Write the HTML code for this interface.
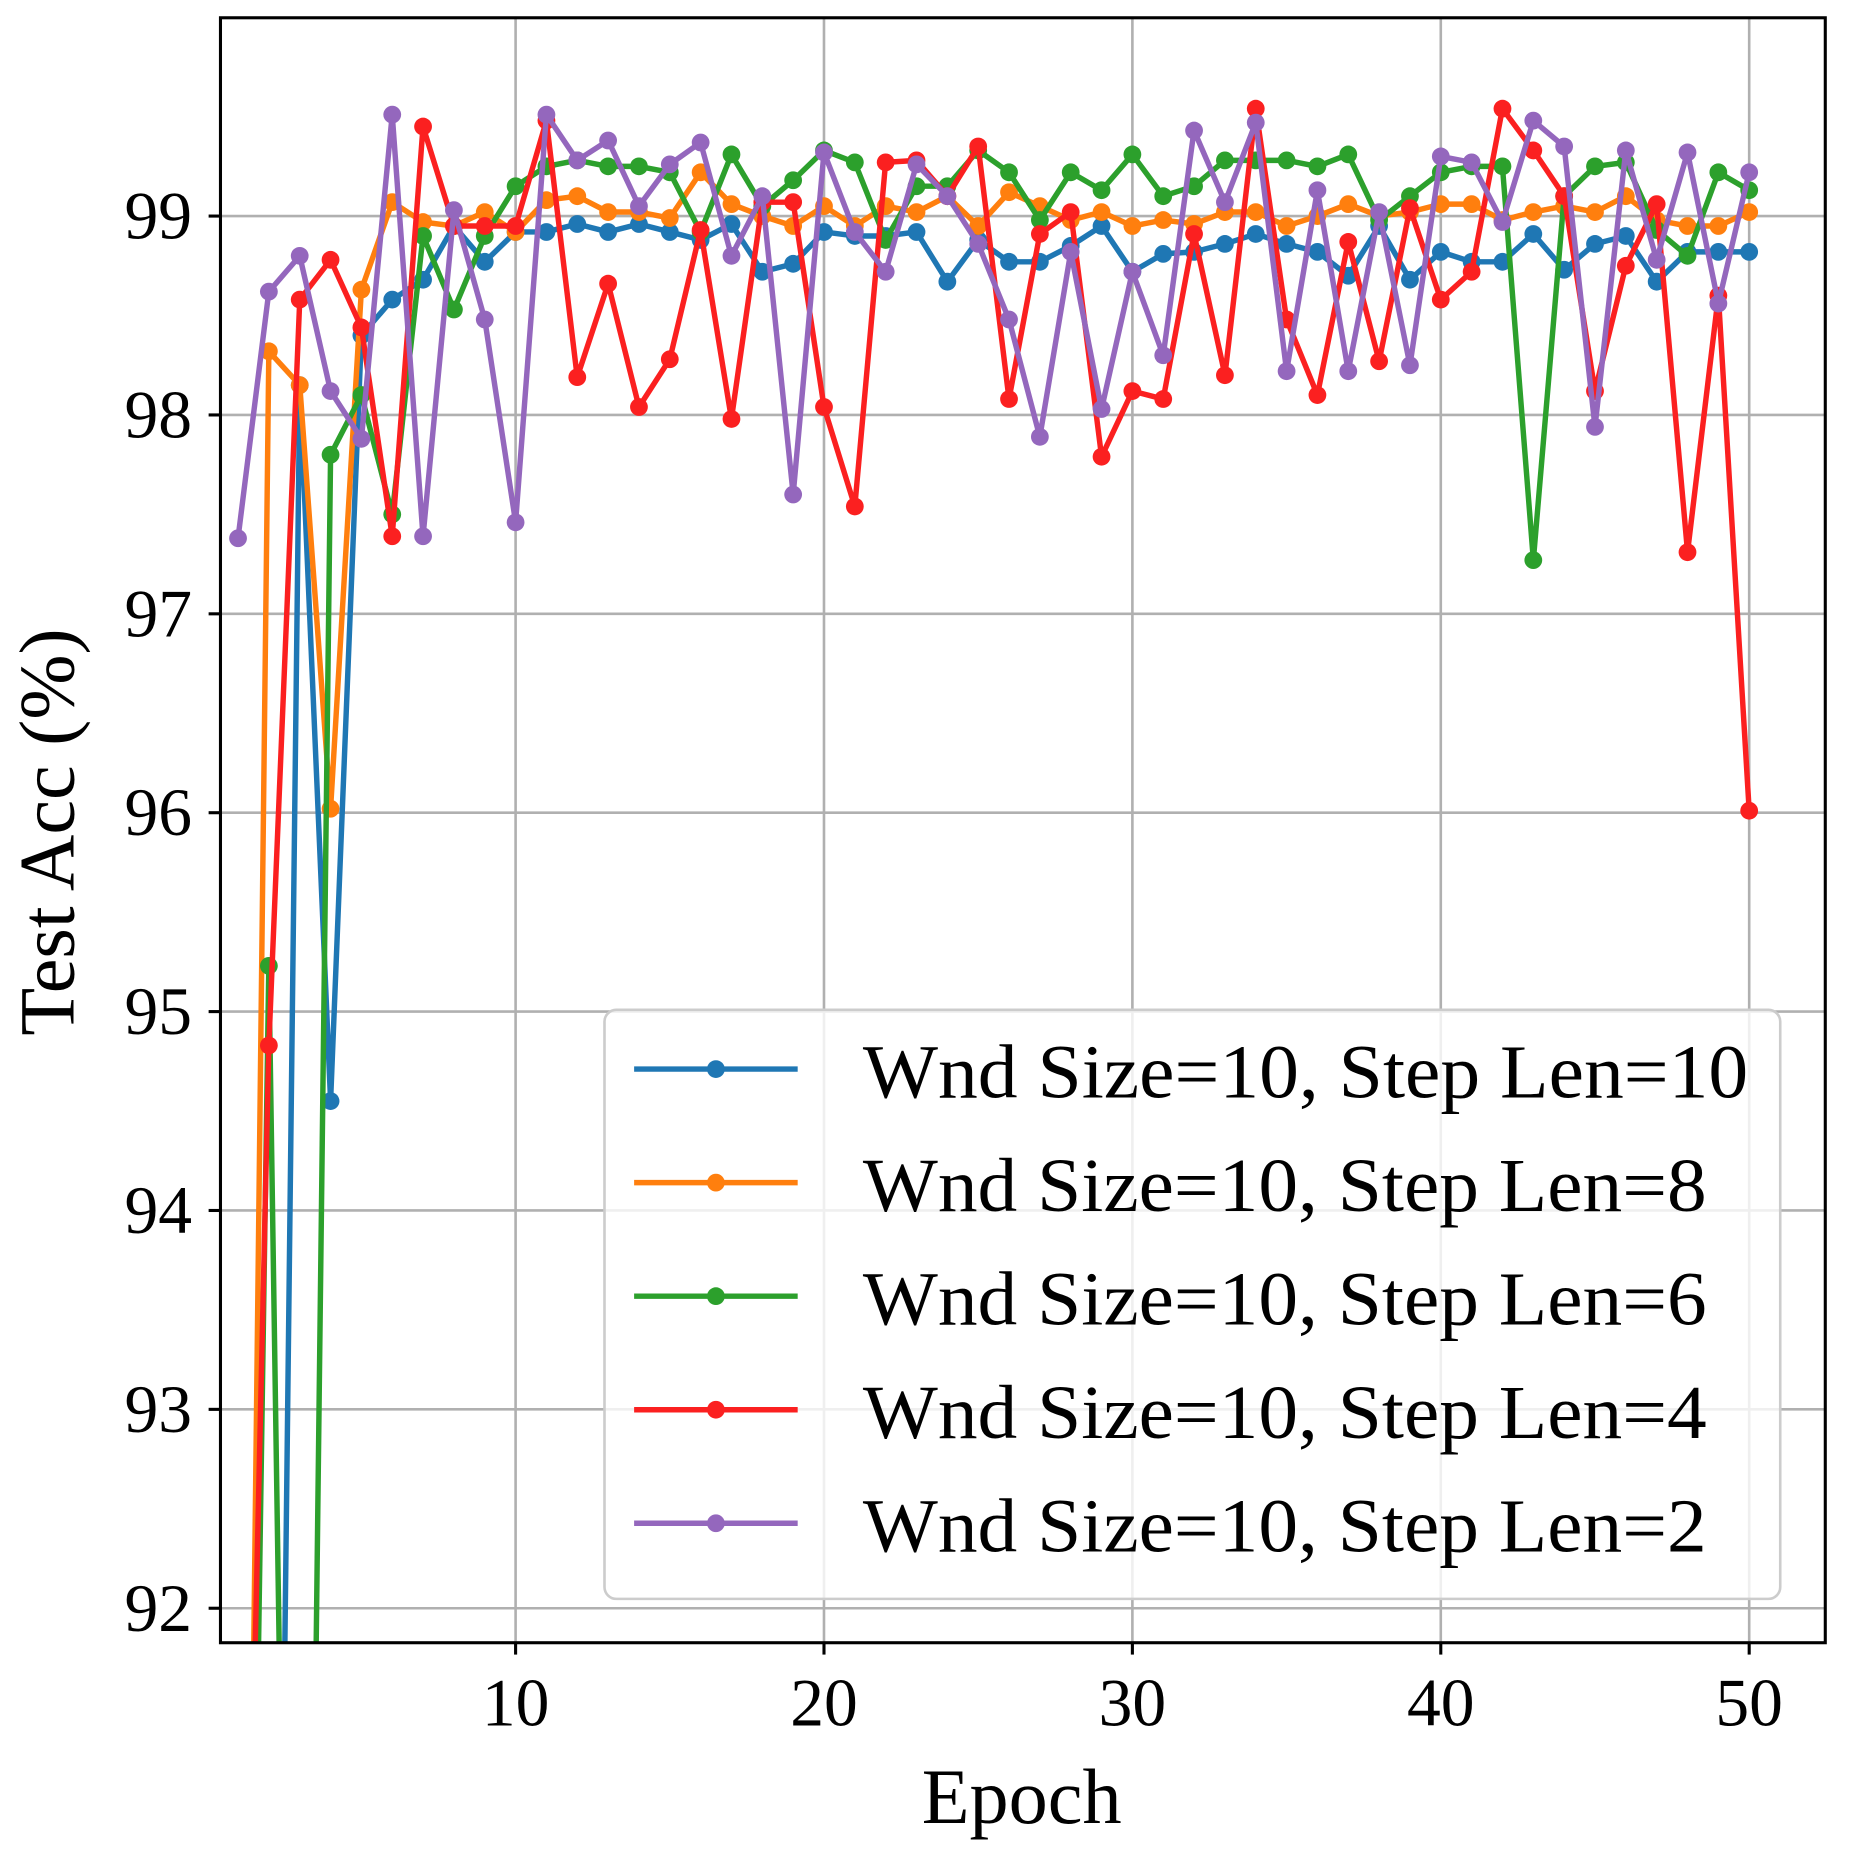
<!DOCTYPE html>
<html><head><meta charset="utf-8"><style>html,body{margin:0;padding:0;background:#fff;overflow:hidden;width:1849px;height:1862px}svg{display:block}</style></head>
<body>
<svg id="s" width="1849" height="1862" viewBox="0 0 1560 1571" xmlns="http://www.w3.org/2000/svg" font-family="Liberation Serif, serif">
<defs><clipPath id="c"><rect x="186" y="15" width="1354" height="1371"/></clipPath></defs>
<rect x="0" y="0" width="1560" height="1571" fill="#fff"/>
<g id="grid" stroke="#b0b0b0" stroke-width="2.2"></g>
<g id="data" clip-path="url(#c)"></g>
<g id="leg"></g>
<rect x="186" y="15" width="1354" height="1371" fill="none" stroke="#000" stroke-width="2.6"/>
<g id="ticks" stroke="#000" stroke-width="2.6"></g>
<g id="lab" font-size="57" fill="#000"></g>
<text x="62" y="702" font-size="66" text-anchor="middle" transform="rotate(-90 62 702)">Test Acc (%)</text>
<text x="862" y="1538" font-size="66" text-anchor="middle">Epoch</text>
</svg>
<script>
const NS="http://www.w3.org/2000/svg";
function X(e){return 435+(e-10)*26.02}
function Y(v){return 182.3+(99-v)*167.8}
function el(p,t,a,txt){const n=document.createElementNS(NS,t);for(const k in a)n.setAttribute(k,a[k]);if(txt!==undefined)n.textContent=txt;document.getElementById(p).appendChild(n);return n}
for(let v=92;v<=99;v++){const y=Y(v);el("grid","line",{x1:186,x2:1540,y1:y,y2:y});el("ticks","line",{x1:176,x2:186,y1:y,y2:y});el("lab","text",{x:162,y:y+19,"text-anchor":"end"},v)}
for(let e=10;e<=50;e+=10){const x=X(e);el("grid","line",{x1:x,x2:x,y1:15,y2:1386});el("ticks","line",{x1:x,x2:x,y1:1386,y2:1396});el("lab","text",{x:x,y:1456,"text-anchor":"middle"},e)}
const S=[
["#1f77b4",[85,85,98.15,94.55,98.4,98.58,98.68,98.95,98.77,98.92,98.92,98.96,98.92,98.96,98.92,98.88,98.96,98.72,98.76,98.92,98.9,98.9,98.92,98.67,98.88,98.77,98.77,98.85,98.95,98.72,98.81,98.82,98.86,98.91,98.86,98.82,98.7,98.95,98.68,98.82,98.77,98.77,98.91,98.73,98.86,98.9,98.67,98.82,98.82,98.82]],
["#ff7f0e",[85,98.32,98.15,96.02,98.63,99.07,98.97,98.95,99.02,98.92,99.08,99.1,99.02,99.02,98.99,99.22,99.06,99.0,98.95,99.05,98.95,99.05,99.02,99.1,98.95,99.12,99.05,98.98,99.02,98.95,98.98,98.96,99.02,99.02,98.95,99.0,99.06,99.0,99.02,99.06,99.06,98.98,99.02,99.05,99.02,99.1,98.98,98.95,98.95,99.02]],
["#2ca02c",[85,95.23,85,97.8,98.1,97.5,98.9,98.53,98.9,99.15,99.25,99.28,99.25,99.25,99.22,98.92,99.31,99.05,99.18,99.33,99.27,98.88,99.15,99.15,99.33,99.22,98.98,99.22,99.13,99.31,99.1,99.15,99.28,99.28,99.28,99.25,99.31,98.98,99.1,99.22,99.25,99.25,97.27,99.1,99.25,99.27,98.93,98.8,99.22,99.13]],
["#fb2020",[88,94.83,98.58,98.78,98.44,97.39,99.45,98.95,98.95,98.95,99.48,98.19,98.66,98.04,98.28,98.93,97.98,99.07,99.07,98.04,97.54,99.27,99.28,99.1,99.35,98.08,98.91,99.02,97.79,98.12,98.08,98.91,98.2,99.54,98.48,98.1,98.87,98.27,99.04,98.58,98.72,99.54,99.33,99.1,98.12,98.75,99.06,97.31,98.6,96.01]],
["#9467bd",[97.38,98.62,98.8,98.12,97.88,99.51,97.39,99.03,98.48,97.46,99.51,99.28,99.38,99.05,99.26,99.37,98.8,99.1,97.6,99.32,98.92,98.72,99.26,99.1,98.86,98.48,97.89,98.82,98.03,98.72,98.3,99.43,99.07,99.47,98.22,99.13,98.22,99.02,98.25,99.3,99.27,98.97,99.48,99.35,97.94,99.33,98.78,99.32,98.56,99.22]]];
const labels=["10","8","6","4","2"];
S.forEach((s,i)=>{let d="";s[1].forEach((v,j)=>{d+=(j?"L":"M")+X(j+1).toFixed(1)+" "+Y(v).toFixed(1)});
el("data","path",{d:d,fill:"none",stroke:s[0],"stroke-width":4.6,"stroke-linejoin":"round"});
s[1].forEach((v,j)=>el("data","circle",{cx:X(j+1),cy:Y(v),r:7.5,fill:s[0]}));});
el("leg","rect",{x:510,y:852,width:992,height:497,rx:10,fill:"#fff","fill-opacity":0.8,stroke:"#cccccc","stroke-width":2.2});
S.forEach((s,i)=>{const y=902+i*95.8;el("leg","line",{x1:535,x2:673,y1:y,y2:y,stroke:s[0],"stroke-width":4.6});el("leg","circle",{cx:604,cy:y,r:7.5,fill:s[0]});
el("leg","text",{x:728,y:y+24,"font-size":64,fill:"#000",textLength:(i==0?747:712),lengthAdjust:"spacingAndGlyphs"},"Wnd Size=10, Step Len="+labels[i]);});
</script>
</body></html>
